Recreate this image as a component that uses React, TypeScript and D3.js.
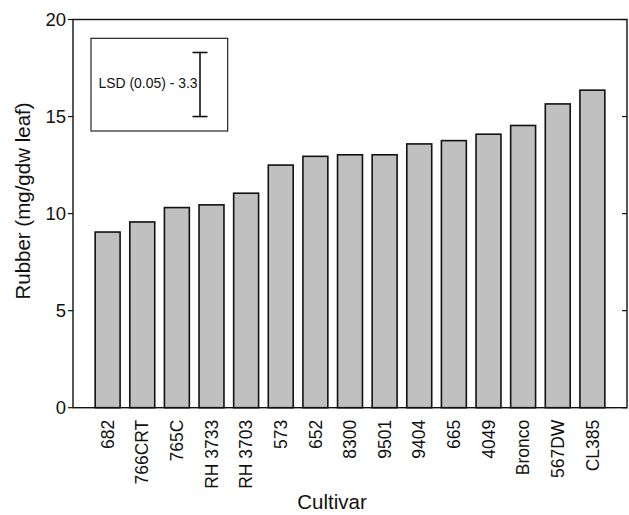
import React from "react";
import * as d3 from "d3";

const categories = [
  "682", "766CRT", "765C", "RH 3733", "RH 3703", "573", "652", "8300",
  "9501", "9404", "665", "4049", "Bronco", "567DW", "CL385",
];
const rubber = [
  9.05, 9.57, 10.31, 10.45, 11.05, 12.5, 12.95, 13.03,
  13.03, 13.59, 13.76, 14.09, 14.54, 15.65, 16.36,
];
const yTicks = [0, 5, 10, 15, 20];
const lsdBase = 15;
const lsdValue = 3.3;
const lsdLabel = "LSD (0.05) - 3.3";

const W = 629;
const H = 515;
const left = 73;
const right = 627;
const top = 19.5;
const bottom = 407.7;
const font = "Arial, 'Liberation Sans', sans-serif";

export default function App() {
  const x = d3
    .scaleBand<string>()
    .domain(categories)
    .range([left, right])
    .paddingInner(0.28)
    .paddingOuter(0.64);
  const y = d3.scaleLinear().domain([0, 20]).range([bottom, top]);
  const bw = x.bandwidth();

  const ebX = 200;
  return (
    <svg
      width={W}
      height={H}
      style={{ position: "absolute", left: 0, top: 0, background: "#fff" }}
      fontFamily={font}
    >
      {categories.map((c, i) => (
        <rect
          key={c}
          x={x(c)}
          y={y(rubber[i])}
          width={bw}
          height={y(0) - y(rubber[i])}
          fill="#c0c0c0"
          stroke="#111"
          strokeWidth={1.6}
        />
      ))}
      <rect
        x={left}
        y={top}
        width={right - left}
        height={bottom - top}
        fill="none"
        stroke="#111"
        strokeWidth={1.4}
      />
      {yTicks.map((t) => (
        <g key={t}>
          <line x1={left - 5} x2={left} y1={y(t)} y2={y(t)} stroke="#111" strokeWidth={1.2} />
          <line x1={right - 5} x2={right} y1={y(t)} y2={y(t)} stroke="#111" strokeWidth={1.2} />
          <text
            x={left - 7}
            y={y(t)}
            dy="0.35em"
            textAnchor="end"
            fontSize={18.5}
            fill="#111"
          >
            {t}
          </text>
        </g>
      ))}
      {categories.map((c) => (
        <text
          key={c}
          transform={`translate(${x(c)! + bw / 2},${bottom + 12}) rotate(-90)`}
          dy="0.35em"
          textAnchor="end"
          fontSize={17.5}
          fill="#111"
        >
          {c}
        </text>
      ))}
      <text
        transform={`translate(30,201) rotate(-90)`}
        textAnchor="middle"
        fontSize={20.5}
        fill="#111"
      >
        Rubber (mg/gdw leaf)
      </text>
      <text x={332} y={509} textAnchor="middle" fontSize={20.5} fill="#111">
        Cultivar
      </text>
      <rect x={91} y={38.3} width={136.7} height={92.7} fill="#fff" stroke="#111" strokeWidth={1.1} />
      <text x={98.5} y={88.3} fontSize={14.5} fill="#111" textLength={99} lengthAdjust="spacingAndGlyphs">
        {lsdLabel}
      </text>
      <line x1={ebX} x2={ebX} y1={y(lsdBase)} y2={y(lsdBase + lsdValue)} stroke="#111" strokeWidth={1.6} />
      <line x1={ebX - 7.5} x2={ebX + 7.5} y1={y(lsdBase)} y2={y(lsdBase)} stroke="#111" strokeWidth={1.6} />
      <line
        x1={ebX - 7.5}
        x2={ebX + 7.5}
        y1={y(lsdBase + lsdValue)}
        y2={y(lsdBase + lsdValue)}
        stroke="#111"
        strokeWidth={1.6}
      />
    </svg>
  );
}
